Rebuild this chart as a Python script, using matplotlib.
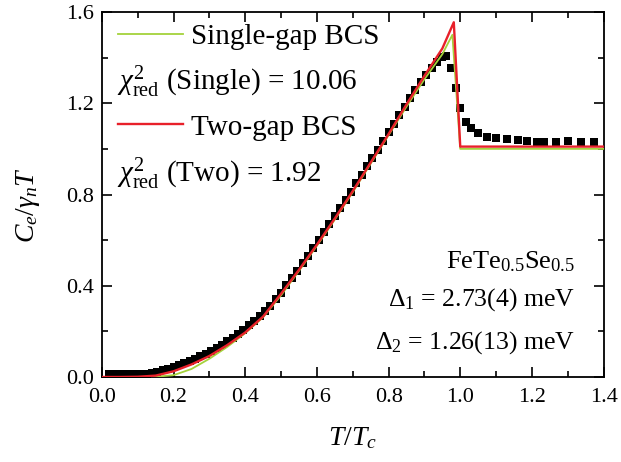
import numpy as np
import matplotlib.pyplot as plt
from matplotlib.ticker import MultipleLocator

plt.rcParams['font.family'] = ['Liberation Serif', 'DejaVu Serif']
plt.rcParams['mathtext.fontset'] = 'custom'
plt.rcParams['mathtext.rm'] = 'Liberation Serif'
plt.rcParams['mathtext.it'] = 'Liberation Serif:italic'

# measured data C_e / gamma_n T
t_data = [0.020, 0.035, 0.050, 0.065, 0.080, 0.095, 0.110, 0.125, 0.140, 0.155,
          0.170, 0.185, 0.200, 0.215, 0.230, 0.245, 0.260, 0.275, 0.290, 0.305,
          0.320, 0.335, 0.350, 0.365, 0.380, 0.395, 0.410, 0.425, 0.440, 0.455,
          0.470, 0.485, 0.500, 0.515, 0.530, 0.545, 0.560, 0.575, 0.590, 0.605,
          0.620, 0.635, 0.650, 0.665, 0.680, 0.695, 0.710, 0.725, 0.740, 0.755,
          0.770, 0.785, 0.800, 0.815, 0.830, 0.845, 0.860, 0.875, 0.890, 0.905,
          0.920, 0.935, 0.950, 0.960, 0.973, 0.987, 1.000, 1.015, 1.030, 1.050,
          1.075, 1.100, 1.130, 1.160, 1.187, 1.215, 1.234, 1.266, 1.300, 1.336,
          1.373]
c_data = [0.012, 0.012, 0.012, 0.012, 0.012, 0.012, 0.013, 0.015, 0.018, 0.023,
          0.030, 0.037, 0.045, 0.053, 0.062, 0.071, 0.081, 0.091, 0.102, 0.114,
          0.127, 0.141, 0.156, 0.172, 0.189, 0.207, 0.226, 0.246, 0.267, 0.289,
          0.312, 0.340, 0.370, 0.402, 0.434, 0.466, 0.498, 0.531, 0.565, 0.600,
          0.635, 0.670, 0.705, 0.741, 0.777, 0.813, 0.849, 0.886, 0.923, 0.960,
          0.997, 1.035, 1.072, 1.110, 1.148, 1.185, 1.222, 1.258, 1.292, 1.324,
          1.355, 1.382, 1.402, 1.405, 1.354, 1.266, 1.180, 1.120, 1.090, 1.070,
          1.054, 1.047, 1.042, 1.040, 1.035, 1.032, 1.032, 1.028, 1.036, 1.028,
          1.028]

# single-gap BCS fit
t_single = [0.0, 0.10, 0.15, 0.20, 0.25, 0.30, 0.35, 0.40, 0.45, 0.50, 0.55, 0.60,
            0.65, 0.70, 0.75, 0.80, 0.85, 0.90, 0.95, 0.978, 1.0, 1.4]
c_single = [0.0, 0.0, 0.001, 0.008, 0.035, 0.080, 0.132, 0.192, 0.262, 0.358, 0.465, 0.575,
            0.690, 0.810, 0.935, 1.060, 1.185, 1.305, 1.415, 1.500, 1.0, 1.0]

# two-gap BCS fit
t_two = [0.0, 0.05, 0.10, 0.15, 0.20, 0.25, 0.30, 0.35, 0.40, 0.45, 0.50, 0.55,
         0.60, 0.65, 0.70, 0.75, 0.80, 0.85, 0.90, 0.95, 0.982, 1.0, 1.4]
c_two = [0.0, 0.0, 0.001, 0.006, 0.025, 0.055, 0.092, 0.140, 0.195, 0.265, 0.365, 0.470,
         0.580, 0.695, 0.815, 0.940, 1.065, 1.195, 1.320, 1.440, 1.555, 1.010, 1.010]

fig = plt.figure(figsize=(6.21, 4.62), dpi=100)
ax = fig.add_axes([0.164, 0.184, 0.808, 0.790])

ax.plot(t_data, c_data, 's', color='black', markersize=5.4, markeredgewidth=0, zorder=2)
l1, = ax.plot(t_single, c_single, color='#a4d23c', lw=1.3, zorder=3)
l2, = ax.plot(t_two, c_two, color='#e8202a', lw=1.7, zorder=4)

ax.set_xlim(0, 1.4)
ax.set_ylim(0, 1.6)
ax.xaxis.set_major_locator(MultipleLocator(0.2))
ax.xaxis.set_minor_locator(MultipleLocator(0.1))
ax.yaxis.set_major_locator(MultipleLocator(0.4))
ax.yaxis.set_minor_locator(MultipleLocator(0.2))
ax.tick_params(which='both', direction='in', top=True, right=True, labelsize=16, width=1.2)
ax.tick_params(which='major', length=7)
ax.tick_params(which='minor', length=4)
ax.tick_params(axis='x', pad=8)
ax.tick_params(axis='y', pad=6)
for s in ax.spines.values():
    s.set_linewidth(1.3)

ax.set_xlabel(r'$T/T_c$', fontsize=20, labelpad=13)
ax.set_ylabel(r'$C_e/\gamma_n T$', fontsize=20)
ax.yaxis.set_label_coords(-0.12, 0.47)

leg = ax.legend([l1, l2], ['Single-gap BCS', 'Two-gap BCS'], loc='upper left',
                bbox_to_anchor=(0.008, 1.0), frameon=False, fontsize=21,
                handlelength=2.25, handletextpad=0.28, labelspacing=2.2,
                borderaxespad=0.0, borderpad=0.4)

ax.text(0.03, 0.81, r'$\chi^{2}_{\mathrm{red}}$ (Single) = 10.06', transform=ax.transAxes,
        fontsize=21, va='center', ha='left')
ax.text(0.03, 0.556, r'$\chi^{2}_{\mathrm{red}}$ (Two) = 1.92', transform=ax.transAxes,
        fontsize=21, va='center', ha='left')

ax.text(0.943, 0.315, r'FeTe$_{0.5}$Se$_{0.5}$', transform=ax.transAxes,
        fontsize=19, va='center', ha='right')
ax.text(0.943, 0.211, r'$\Delta_1$ = 2.73(4) meV', transform=ax.transAxes,
        fontsize=18.5, va='center', ha='right')
ax.text(0.943, 0.093, r'$\Delta_2$ = 1.26(13) meV', transform=ax.transAxes,
        fontsize=18.5, va='center', ha='right')

fig.savefig('out.png', dpi=100)
